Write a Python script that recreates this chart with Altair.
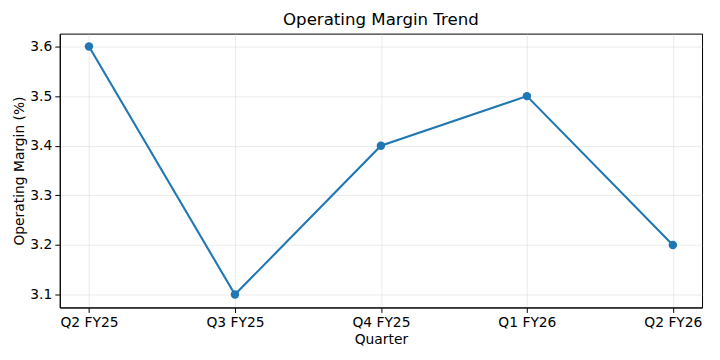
import altair as alt
import pandas as pd

quarters = ["Q2 FY25", "Q3 FY25", "Q4 FY25", "Q1 FY26", "Q2 FY26"]
margins = [3.6, 3.1, 3.4, 3.5, 3.2]

df = pd.DataFrame({"Quarter": quarters, "Margin": margins})

FONT = "DejaVu Sans"
LS = 13.9

common = dict(labelFontSize=LS, titleFontSize=LS, titleFontWeight="normal",
              labelColor="black", titleColor="black", tickColor="black",
              domainColor="black", tickSize=5, labelPadding=3, grid=True,
              gridColor="#cccccc", gridOpacity=0.5, gridWidth=0.8)

x = alt.X("Quarter:N", sort=quarters,
          scale=alt.Scale(type="point", padding=0.2),
          axis=alt.Axis(title="Quarter", labelAngle=0, titlePadding=3, **common))
y = alt.Y("Margin:Q",
          scale=alt.Scale(domain=[3.074, 3.626], nice=False, zero=False),
          axis=alt.Axis(title="Operating Margin (%)", values=[3.1, 3.2, 3.3, 3.4, 3.5, 3.6],
                        format=".1f", titlePadding=3, **common))

base = alt.Chart(df).encode(x=x, y=y)
line = base.mark_line(color="#1f77b4", strokeWidth=2.1)
pts = base.mark_circle(color="#1f77b4", size=72, opacity=1)

chart = (line + pts).properties(
    width=645, height=275,
    title=alt.TitleParams("Operating Margin Trend", fontSize=16.7, fontWeight="normal",
                          font=FONT, color="black", offset=5),
    autosize=alt.AutoSizeParams(type="none"),
    padding={"left": 52, "top": 25, "right": 10, "bottom": 40},
).configure(font=FONT).configure_view(stroke="black", strokeWidth=1).configure_axis(
    labelFont=FONT, titleFont=FONT)

chart.save("out.html", embed_options={"renderer": "svg", "actions": False})
